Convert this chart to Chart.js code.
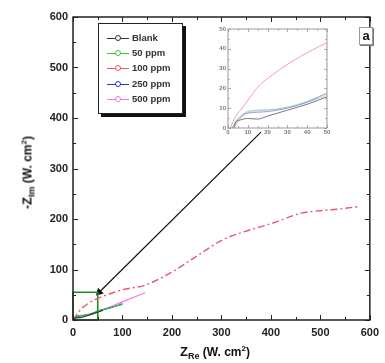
<!DOCTYPE html>
<html>
<head>
<meta charset="utf-8">
<script src="https://cdn.jsdelivr.net/npm/chart.js@4.4.1/dist/chart.umd.min.js"></script>
<style>
  body { margin: 0; background: #fff; }
  #wrap { position: relative; width: 385px; height: 363px; font-family: "Liberation Sans", Arial, sans-serif; }
  #main { position: absolute; left: 0; top: 0; }
  #inset { position: absolute; left: 212px; top: 22px; }
  .legend { position: absolute; left: 98px; top: 23px; width: 85px; height: 91px; border: 1px solid #222;
    background: #fff; box-shadow: 3px 3px 0 #111; box-sizing: border-box; }
  .row { position: absolute; left: 8px; height: 12px; font-size: 9.5px; font-weight: bold; color: #333; line-height: 12px; }
  .row i { position: absolute; left: 0; top: 6px; width: 22px; height: 0; border-top: 1px solid; }
  .row b { position: absolute; left: 8px; top: 3px; width: 4px; height: 4px; border: 1px solid; border-radius: 50%; background: #fff; }
  .row span { position: absolute; left: 25px; white-space: nowrap; }
  .tag { position: absolute; left: 359px; top: 27px; width: 12px; height: 16px; border: 1px solid #999; background: #fff;
    font-weight: bold; font-size: 13px; line-height: 15px; text-align: center; color: #111; box-shadow: 1px 1px 0 #777; }
  .xt { position: absolute; left: 180px; top: 344px; font-weight: bold; font-size: 12px; color: #111; white-space: nowrap; }
  .yt { position: absolute; left: -22px; top: 172px; font-weight: bold; font-size: 12px; color: #111; white-space: nowrap;
    transform: rotate(-90deg); transform-origin: center; width: 100px; text-align: center; margin-top: -8px; }
  .xt .big, .yt .big { font-size: 13px; }
  sub { font-size: 9px; vertical-align: -3px; }
  sup { font-size: 8px; vertical-align: 5px; }
</style>
</head>
<body>
<div id="wrap">
  <canvas id="main" width="385" height="363"></canvas>
  <canvas id="inset" width="120" height="115"></canvas>
  <div class="legend" id="legend"></div>
  <div class="tag">a</div>
  <div class="xt"><span class="big">Z</span><sub>Re</sub> (W. cm<sup>2</sup>)</div>
  <div class="yt">-<span class="big">Z</span><sub>Im</sub> (W. cm<sup>2</sup>)</div>
</div>
<script>
// --- Data ---
const seriesNames = ['Blank', '50 ppm', '100 ppm', '250 ppm', '500 ppm'];
const seriesColors = ['#333333', '#33cc33', '#e8586a', '#2a35c8', '#ee77ee'];
const insetColors = ['#555566', '#88dd99', '#f08890', '#7080e0', '#f0a0f0'];

const blankX = [3, 4, 6, 10, 15, 20, 30, 40, 50, 60];
const blankY = [0, 3, 4, 4.8, 4.5, 6, 9, 12, 15.7, 19];

const ppm50X = [2, 4, 7, 10, 20, 30, 40, 50, 75, 100];
const ppm50Y = [0, 3.5, 6.5, 8.5, 9.2, 10.5, 13.5, 17.5, 24, 31];

const ppm100X = [1, 4, 7.6, 10, 16, 20, 33, 40, 50, 75, 100, 146, 200, 251, 305, 350, 404, 463, 495, 540, 580];
const ppm100Y = [0, 6, 10.6, 14, 21.7, 25, 34, 38, 43, 52, 60, 69, 95, 127, 160, 176, 192, 212, 216, 220, 225];

const ppm250X = [2, 4, 7.6, 10, 20, 30, 40, 50, 75, 100];
const ppm250Y = [0, 3, 6.6, 7.5, 8.3, 10, 13, 17.5, 24, 32];

const ppm500X = [3, 5, 10, 20, 30, 40, 50, 100, 146];
const ppm500Y = [0, 3, 8, 9, 10.5, 13, 16.5, 36, 54];

// zoom box and arrow pointing to the inset
const boxX = [0, 50, 50, 0, 0];
const boxY = [0, 0, 55, 55, 0];
const arrowX = [53, 380];
const arrowY = [55, 372];

const mainTicks = [0, 100, 200, 300, 400, 500, 600];
const insetTicks = [0, 10, 20, 30, 40, 50];

const pts = (xs, ys) => xs.map((x, i) => ({ x: x, y: ys[i] }));
const seriesData = [
  pts(blankX, blankY), pts(ppm50X, ppm50Y), pts(ppm100X, ppm100Y), pts(ppm250X, ppm250Y), pts(ppm500X, ppm500Y)
];

// frame + inward ticks on all four sides
const frameTicks = {
  id: 'frameTicks',
  afterDatasetsDraw(chart, args, o) {
    const { ctx, chartArea: a, scales: { x, y } } = chart;
    ctx.save();
    ctx.strokeStyle = o.color;
    ctx.lineWidth = o.width;
    ctx.strokeRect(a.left, a.top, a.right - a.left, a.bottom - a.top);
    ctx.lineWidth = o.tickWidth;
    ctx.beginPath();
    for (let v = x.min; v <= x.max + 1e-6; v += o.minor) {
      const len = Math.abs(v % o.major) < 1e-6 ? o.len : o.len * 0.6;
      const p = Math.round(x.getPixelForValue(v)) + 0.5;
      ctx.moveTo(p, a.bottom); ctx.lineTo(p, a.bottom - len);
      ctx.moveTo(p, a.top); ctx.lineTo(p, a.top + len);
    }
    for (let v = y.min; v <= y.max + 1e-6; v += o.minor) {
      const len = Math.abs(v % o.major) < 1e-6 ? o.len : o.len * 0.6;
      const p = Math.round(y.getPixelForValue(v)) + 0.5;
      ctx.moveTo(a.left, p); ctx.lineTo(a.left + len, p);
      ctx.moveTo(a.right, p); ctx.lineTo(a.right - len, p);
    }
    ctx.stroke();
    ctx.restore();
  }
};

function axis(ticks, size, color, pad, fit) {
  return {
    type: 'linear', min: ticks[0], max: ticks[ticks.length - 1],
    afterBuildTicks: s => { s.ticks = ticks.map(v => ({ value: v })); },
    afterFit: fit,
    grid: { display: false, drawTicks: false },
    border: { display: false },
    ticks: { font: { family: 'Liberation Sans', size: size, weight: 'bold' }, color: color, padding: pad }
  };
}

// --- Main chart ---
const mainSets = seriesData.map((d, i) => ({
  data: d, borderColor: seriesColors[i], borderWidth: i === 2 ? 1.4 : 1.2,
  borderDash: i === 2 ? [7, 3, 2, 3] : [], pointRadius: 0, showLine: true, cubicInterpolationMode: 'monotone'
}));
mainSets.push({ data: pts(boxX, boxY), borderColor: '#1f8a2a', borderWidth: 1.6, pointRadius: 0, showLine: true });
mainSets.push({
  data: pts(arrowX, arrowY), borderColor: '#111', backgroundColor: '#111', borderWidth: 1.2, showLine: true,
  pointStyle: 'triangle', pointRadius: [3.5, 0], pointRotation: [225, 0]
});

new Chart(document.getElementById('main'), {
  type: 'scatter',
  data: { datasets: mainSets },
  options: {
    responsive: false, animation: false, clip: false,
    layout: { padding: { top: 17, right: 8, left: 0, bottom: 0 } },
    plugins: { legend: { display: false }, tooltip: { enabled: false },
      frameTicks: { color: '#222', width: 1.5, tickWidth: 1, len: 5, major: 100, minor: 50 } },
    scales: {
      x: axis(mainTicks, 11, '#222', 6, s => { s.height = 43; }),
      y: axis(mainTicks, 11, '#222', 5, s => { s.width = 73; })
    }
  },
  plugins: [frameTicks]
});

// --- Inset chart ---
new Chart(document.getElementById('inset'), {
  type: 'scatter',
  data: { datasets: seriesData.map((d, i) => ({
    data: d, borderColor: insetColors[i], borderWidth: 0.8, pointRadius: 0, showLine: true,
    cubicInterpolationMode: 'monotone'
  })) },
  options: {
    responsive: false, animation: false,
    layout: { padding: { top: 7, right: 5, left: 0, bottom: 0 } },
    plugins: { legend: { display: false }, tooltip: { enabled: false },
      frameTicks: { color: '#999', width: 1, tickWidth: 0.8, len: 3, major: 10, minor: 5 } },
    scales: {
      x: axis(insetTicks, 6, '#777', 1, s => { s.height = 9; }),
      y: axis(insetTicks, 6, '#777', 2, s => { s.width = 16; })
    }
  },
  plugins: [frameTicks]
});

// --- Legend ---
const legend = document.getElementById('legend');
seriesNames.forEach((n, i) => {
  const r = document.createElement('div');
  r.className = 'row';
  r.style.top = (8 + i * 15.2) + 'px';
  r.innerHTML = '<i style="border-color:' + seriesColors[i] + '"></i><b style="border-color:' + seriesColors[i] +
    '"></b><span>' + n + '</span>';
  legend.appendChild(r);
});
</script>
</body>
</html>
